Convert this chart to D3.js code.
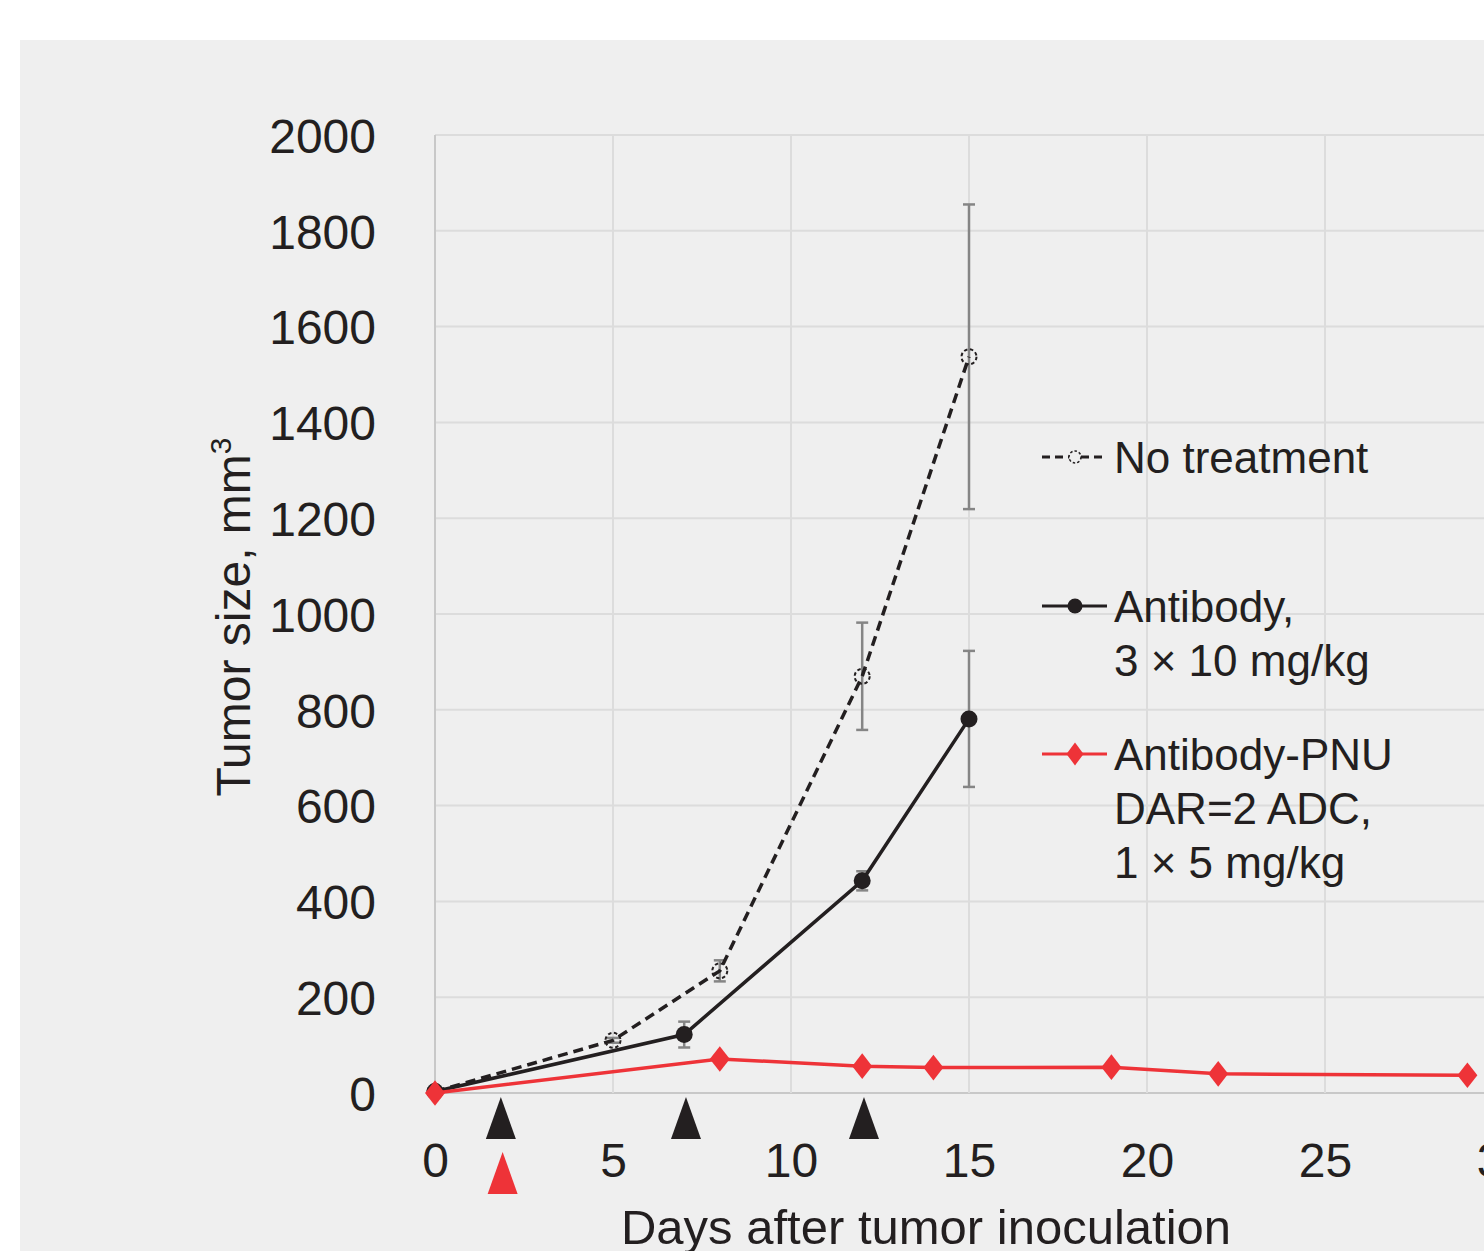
<!DOCTYPE html>
<html>
<head>
<meta charset="utf-8">
<script src="https://cdn.jsdelivr.net/npm/d3@7"></script>
<style>
  body { margin: 0; background: #fff; }
  text { font-family: "Liberation Sans", Arial, Helvetica, sans-serif; fill: #231f20; }
</style>
</head>
<body>
<div id="chart"></div>
<script>
// values
const noTxDays = [0, 5, 8, 12, 15];
const noTxMean = [3, 110, 255, 870, 1537];
const noTxErr = [0, 5, 22, 112, 318];

const abDays = [0, 7, 12, 15];
const abMean = [3, 122, 443, 781];
const abErr = [0, 27, 20, 142];

const adcDays = [0, 8, 12, 14, 19, 22, 29];
const adcMean = [0, 71, 56, 53, 54, 40, 37];

// dosing arrows
const abDoseDays = [1.85, 7.05, 12.05];
const adcDoseDays = [1.9];

const xTicks = [0, 5, 10, 15, 20, 25, 30];
const yTicks = [0, 200, 400, 600, 800, 1000, 1200, 1400, 1600, 1800, 2000];

const W = 1484, H = 1251;
const RED = "#ee3338", BLACK = "#231f20", GRID = "#dcdcdc", ERR = "#858585";

const svg = d3.select("#chart").append("svg")
    .attr("width", W)
    .attr("height", H);

// grey panel
svg.append("rect")
    .attr("x", 20).attr("y", 40)
    .attr("width", W - 20).attr("height", H - 40)
    .attr("fill", "#efefef");

const x = d3.scaleLinear().domain([0, 30]).range([435, 1503]);
const y = d3.scaleLinear().domain([0, 2000]).range([1093, 135]);

// gridlines
const grid = svg.append("g");
grid.selectAll("line.h")
    .data(yTicks)
    .enter().append("line")
    .attr("x1", x(0)).attr("x2", W)
    .attr("y1", d => y(d)).attr("y2", d => y(d))
    .attr("stroke", d => d === 0 ? "#c8c8c8" : GRID)
    .attr("stroke-width", 2);
grid.selectAll("line.v")
    .data(xTicks)
    .enter().append("line")
    .attr("x1", d => x(d)).attr("x2", d => x(d))
    .attr("y1", y(2000)).attr("y2", y(0))
    .attr("stroke", d => d === 0 ? "#c8c8c8" : GRID)
    .attr("stroke-width", 2);

// y axis labels
const yAxis = d3.axisLeft(y).tickValues(yTicks).tickFormat(d3.format("d")).tickSize(0).tickPadding(0);
const gy = svg.append("g")
    .attr("transform", "translate(376,0)")
    .call(yAxis);
gy.select(".domain").remove();
gy.selectAll("text")
    .attr("font-size", 48)
    .attr("fill", BLACK)
    .attr("font-family", "Liberation Sans, Arial, sans-serif")
    .attr("dy", "0.36em");

// x axis labels
const xAxis = d3.axisBottom(x).tickValues(xTicks).tickSize(0).tickPadding(0);
const gx = svg.append("g")
    .attr("transform", "translate(0,1142)")
    .call(xAxis);
gx.select(".domain").remove();
gx.selectAll("text")
    .attr("font-size", 48)
    .attr("fill", BLACK)
    .attr("font-family", "Liberation Sans, Arial, sans-serif")
    .attr("dy", "0.72em");

// axis titles
svg.append("text")
    .attr("x", 926).attr("y", 1244)
    .attr("text-anchor", "middle")
    .attr("font-size", 49)
    .text("Days after tumor inoculation");

const yt = svg.append("text")
    .attr("transform", "translate(250,617) rotate(-90)")
    .attr("text-anchor", "middle")
    .attr("font-size", 48);
yt.append("tspan").text("Tumor size, mm");
yt.append("tspan").attr("font-size", 30).attr("dy", -19).text("3");

// error bars
function errorBars(days, mean, err) {
    const g = svg.append("g").attr("stroke", ERR).attr("stroke-width", 2.5);
    const pts = days.map((d, i) => ({ d: d, m: mean[i], e: err[i] })).filter(p => p.e > 0);
    g.selectAll("line.v").data(pts).enter().append("line")
        .attr("x1", p => x(p.d)).attr("x2", p => x(p.d))
        .attr("y1", p => y(p.m - p.e)).attr("y2", p => y(p.m + p.e));
    [-1, 1].forEach(s => {
        g.selectAll("line.c" + s).data(pts).enter().append("line")
            .attr("x1", p => x(p.d) - 6).attr("x2", p => x(p.d) + 6)
            .attr("y1", p => y(p.m + s * p.e)).attr("y2", p => y(p.m + s * p.e));
    });
}
errorBars(noTxDays, noTxMean, noTxErr);
errorBars(abDays, abMean, abErr);

const line = d3.line().x(p => x(p[0])).y(p => y(p[1]));

// no treatment
svg.append("path")
    .datum(noTxDays.map((d, i) => [d, noTxMean[i]]))
    .attr("d", line)
    .attr("fill", "none")
    .attr("stroke", BLACK)
    .attr("stroke-width", 3.5)
    .attr("stroke-dasharray", "10,6");
svg.selectAll("circle.nt")
    .data(noTxDays.map((d, i) => [d, noTxMean[i]]))
    .enter().append("circle")
    .attr("cx", p => x(p[0])).attr("cy", p => y(p[1]))
    .attr("r", 7.5)
    .attr("fill", "none")
    .attr("stroke", BLACK)
    .attr("stroke-width", 2)
    .attr("stroke-dasharray", "3.5,2.5");

// antibody
svg.append("path")
    .datum(abDays.map((d, i) => [d, abMean[i]]))
    .attr("d", line)
    .attr("fill", "none")
    .attr("stroke", BLACK)
    .attr("stroke-width", 3.5);
svg.selectAll("circle.ab")
    .data(abDays.map((d, i) => [d, abMean[i]]))
    .enter().append("circle")
    .attr("cx", p => x(p[0])).attr("cy", p => y(p[1]))
    .attr("r", 8.5)
    .attr("fill", BLACK);

// ADC
svg.append("path")
    .datum(adcDays.map((d, i) => [d, adcMean[i]]))
    .attr("d", line)
    .attr("fill", "none")
    .attr("stroke", RED)
    .attr("stroke-width", 3.5);
const diamond = d3.symbol().type(d3.symbolDiamond).size(190);
svg.selectAll("path.adc")
    .data(adcDays.map((d, i) => [d, adcMean[i]]))
    .enter().append("path")
    .attr("d", diamond)
    .attr("transform", p => "translate(" + x(p[0]) + "," + y(p[1]) + ") scale(1.35,1)")
    .attr("fill", RED);

// dosing triangles
function tri(cx, top, color) {
    svg.append("path")
        .attr("d", "M" + cx + "," + top + "L" + (cx + 15) + "," + (top + 42) + "L" + (cx - 15) + "," + (top + 42) + "Z")
        .attr("fill", color);
}
abDoseDays.forEach(d => tri(x(d), 1097, BLACK));
adcDoseDays.forEach(d => tri(x(d), 1152, RED));

// legend
const lg = svg.append("g").attr("font-size", 44);
function legendItem(ly, lines, draw) {
    draw(ly);
    lines.forEach((t, i) => {
        lg.append("text").attr("x", 1114).attr("y", ly + 16 + i * 54).text(t);
    });
}
legendItem(457, ["No treatment"], ly => {
    lg.append("line").attr("x1", 1042).attr("x2", 1107).attr("y1", ly).attr("y2", ly)
        .attr("stroke", BLACK).attr("stroke-width", 3).attr("stroke-dasharray", "8,5");
    lg.append("circle").attr("cx", 1075).attr("cy", ly).attr("r", 6)
        .attr("fill", "#efefef").attr("stroke", BLACK).attr("stroke-width", 1.5).attr("stroke-dasharray", "2.5,2");
});
legendItem(606, ["Antibody,", "3 × 10 mg/kg"], ly => {
    lg.append("line").attr("x1", 1042).attr("x2", 1107).attr("y1", ly).attr("y2", ly)
        .attr("stroke", BLACK).attr("stroke-width", 3);
    lg.append("circle").attr("cx", 1075).attr("cy", ly).attr("r", 7.5).attr("fill", BLACK);
});
legendItem(754, ["Antibody-PNU", "DAR=2 ADC,", "1 × 5 mg/kg"], ly => {
    lg.append("line").attr("x1", 1042).attr("x2", 1107).attr("y1", ly).attr("y2", ly)
        .attr("stroke", RED).attr("stroke-width", 3);
    lg.append("path").attr("d", d3.symbol().type(d3.symbolDiamond).size(150))
        .attr("transform", "translate(1075," + ly + ") scale(1.3,1)").attr("fill", RED);
});
</script>
</body>
</html>
